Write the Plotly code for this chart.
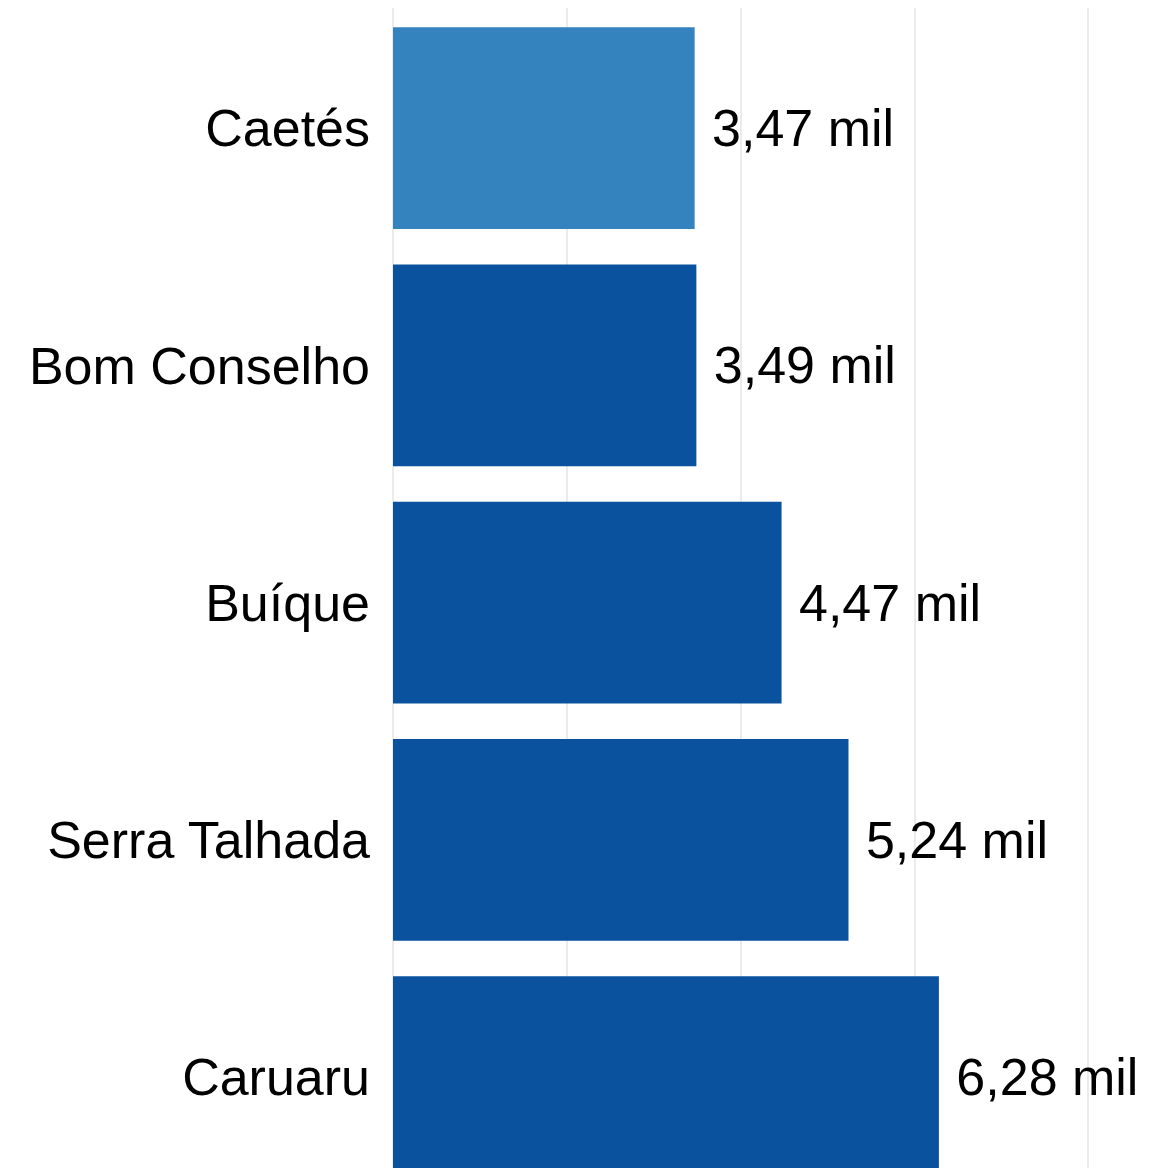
import plotly.graph_objects as go

municipios = ["Caetés", "Bom Conselho", "Buíque", "Serra Talhada", "Caruaru"]
valores = [3470, 3490, 4470, 5240, 6280]
rotulos = ["3,47 mil", "3,49 mil", "4,47 mil", "5,24 mil", "6,28 mil"]
destaque = "Caetés"

COR_BARRA = "#0a529e"
COR_DESTAQUE = "#3483bf"
COR_GRADE = "#ebebeb"

cores = [COR_DESTAQUE if m == destaque else COR_BARRA for m in municipios]

fig = go.Figure(go.Bar(
    x=valores,
    y=municipios,
    orientation="h",
    marker=dict(color=cores, line=dict(width=0)),
    text=[" " + r for r in rotulos],
    textposition="outside",
    cliponaxis=False,
    textfont=dict(family="Liberation Sans, Arial, sans-serif", size=52, color="#000000"),
    hoverinfo="skip",
))

# a pagina tem 8px de margem no body: compensa no layout
fig.update_layout(
    width=1143,
    height=1160,
    paper_bgcolor="#ffffff",
    plot_bgcolor="#ffffff",
    margin=dict(l=385, r=0, t=0, b=0),
    bargap=0.15,
    showlegend=False,
    font=dict(family="Liberation Sans, Arial, sans-serif", size=52, color="#000000"),
    xaxis=dict(
        range=[0, 8720],
        dtick=2000,
        showgrid=True,
        gridcolor=COR_GRADE,
        gridwidth=2,
        zeroline=True,
        zerolinecolor=COR_GRADE,
        zerolinewidth=2,
        showticklabels=False,
        showline=False,
        fixedrange=True,
    ),
    yaxis=dict(
        categoryorder="array",
        categoryarray=municipios,
        range=[4.383, -0.506],
        showgrid=False,
        showline=False,
        ticks="",
        ticklabelstandoff=22,
        tickfont=dict(size=52, color="#000000"),
        fixedrange=True,
    ),
)

fig.write_html("out.html", config={"displayModeBar": False})
